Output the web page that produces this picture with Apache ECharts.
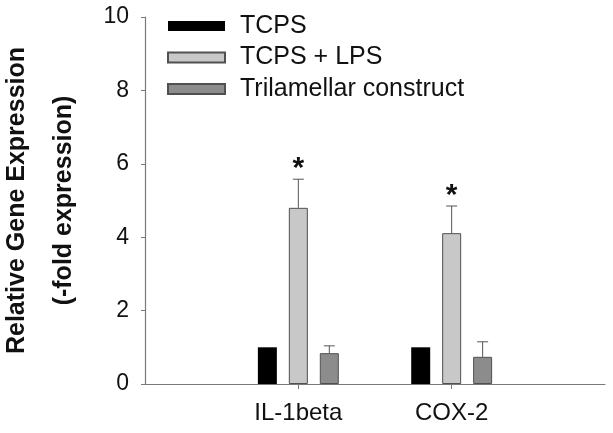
<!DOCTYPE html>
<html>
<head>
<meta charset="utf-8">
<script src="https://cdn.jsdelivr.net/npm/echarts@6/dist/echarts.min.js"></script>
<style>html,body{margin:0;padding:0;background:#fff}#c{width:613px;height:433px}</style>
</head>
<body>
<div id="c"></div>
<script>
// ---- data ----
var categories = ['IL-1beta', 'COX-2'];
var seriesNames = ['TCPS', 'TCPS + LPS', 'Trilamellar construct'];
var tcps = [1.0, 1.0];
var tcpsLps = [4.80, 4.11];
var trilamellar = [0.84, 0.74];
var tcpsErr = [0, 0];
var tcpsLpsErr = [0.78, 0.74];
var trilamellarErr = [0.20, 0.41];
var tcpsLpsMarks = ['*', '*'];
var yTicks = [0, 2, 4, 6, 8, 10];

// ---- build ----
var FONT = '"Liberation Sans", Arial, Helvetica, sans-serif';
var axisCats = [''].concat(categories, ['']);
function pad(a) { return ['-'].concat(a, ['-']); }
var means = [tcps, tcpsLps, trilamellar];
var errs = [tcpsErr, tcpsLpsErr, trilamellarErr];
var marks = [[], tcpsLpsMarks, []];
var colors = ['#000000', '#c8c8c8', '#8c8c8c'];
var borders = ['#000000', '#505050', '#505050'];
var BAR_W = 19, BAR_GAP = 0.63;

var errData = [];
for (var s = 0; s < 3; s++) {
  for (var i = 0; i < categories.length; i++) {
    if (errs[s][i] > 0) errData.push([i + 1, means[s][i], errs[s][i], s, marks[s][i] || '']);
  }
}

var series = [];
for (var s2 = 0; s2 < 3; s2++) {
  series.push({
    name: seriesNames[s2], type: 'bar', data: pad(means[s2]),
    barWidth: BAR_W, barGap: (BAR_GAP * 100) + '%',
    itemStyle: { color: colors[s2], borderColor: borders[s2], borderWidth: s2 === 0 ? 0 : 1 },
    silent: true
  });
}
series.push({
  type: 'custom', data: errData, z: 5, silent: true,
  renderItem: function (params, api) {
    var cat = api.value(0), m = api.value(1), e = api.value(2), si = api.value(3);
    var off = (si - 1) * BAR_W * (1 + BAR_GAP);
    var p0 = api.coord([cat, m]);
    var p1 = api.coord([cat, m + e]);
    var x = p0[0] + off;
    var cap = 5.5;
    var st = { stroke: '#555', lineWidth: 1 };
    var children = [
      { type: 'line', shape: { x1: x, y1: p0[1], x2: x, y2: p1[1] }, style: st },
      { type: 'line', shape: { x1: x - cap, y1: p1[1], x2: x + cap, y2: p1[1] }, style: st }
    ];
    var mk = errData[params.dataIndex][4];
    if (mk) {
      children.push({ type: 'text', style: { text: mk, x: x, y: p1[1] + 5, align: 'center', verticalAlign: 'bottom', fontSize: 30, fontWeight: 'bold', fontFamily: FONT, fill: '#111' } });
    }
    return { type: 'group', children: children };
  }
});

var chart = echarts.init(document.getElementById('c'), null, { renderer: 'canvas' });
chart.setOption({
  animation: false,
  backgroundColor: '#fff',
  grid: { left: 145, right: 8, top: 17, bottom: 49, containLabel: false, outerBoundsMode: 'none' },
  legend: {
    data: seriesNames, orient: 'vertical', left: 167, top: 13.5, padding: 0,
    itemWidth: 57, itemHeight: 10, itemGap: 6.5, selectedMode: false,
    icon: 'rect',
    textStyle: { fontSize: 25, lineHeight: 25, fontFamily: FONT, color: '#111', padding: [0, 0, 0, 10] }
  },
  xAxis: {
    type: 'category', data: axisCats, boundaryGap: false,
    axisLine: { lineStyle: { color: '#7a7a7a', width: 1.2 } },
    axisTick: { length: 5, lineStyle: { color: '#7a7a7a' }, interval: function (idx) { return idx > 0 && idx < axisCats.length - 1; } },
    axisLabel: { fontSize: 24, fontFamily: FONT, color: '#111', margin: 17, interval: 0 },
    splitLine: { show: false }
  },
  yAxis: {
    type: 'value', min: yTicks[0], max: yTicks[yTicks.length - 1], interval: 2,
    name: 'Relative Gene Expression\n(-fold expression)', nameLocation: 'middle', nameGap: 57,
    nameTextStyle: { fontSize: 25, fontWeight: 'bold', fontFamily: FONT, color: '#111', lineHeight: 47 },
    axisLine: { show: true, lineStyle: { color: '#7a7a7a', width: 1.2 } },
    axisTick: { show: true, length: 4, lineStyle: { color: '#7a7a7a' } },
    axisLabel: { fontSize: 23, fontFamily: FONT, color: '#111', margin: 16 },
    splitLine: { show: false }
  },
  series: series
});
</script>
</body>
</html>
